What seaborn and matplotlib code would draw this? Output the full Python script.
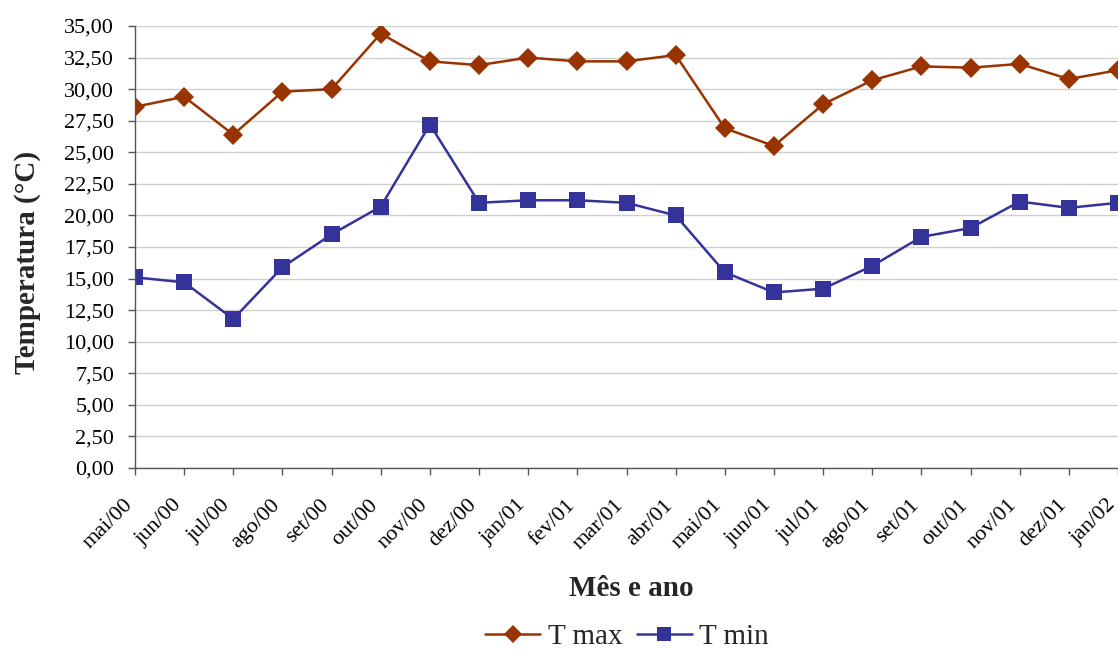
import numpy as np
import pandas as pd
import matplotlib
matplotlib.use("Agg")
import matplotlib.pyplot as plt
import matplotlib.ticker as mticker
import matplotlib.transforms as mtransforms
import seaborn as sns

meses = ["mai/00", "jun/00", "jul/00", "ago/00", "set/00", "out/00", "nov/00",
         "dez/00", "jan/01", "fev/01", "mar/01", "abr/01", "mai/01", "jun/01",
         "jul/01", "ago/01", "set/01", "out/01", "nov/01", "dez/01", "jan/02"]

t_max = [28.6, 29.4, 26.4, 29.8, 30.0, 34.4, 32.2, 31.9, 32.5, 32.2, 32.2,
         32.7, 26.9, 25.5, 28.8, 30.7, 31.8, 31.7, 32.0, 30.8, 31.5]

t_min = [15.1, 14.7, 11.8, 15.9, 18.5, 20.7, 27.2, 21.0, 21.2, 21.2, 21.0,
         20.0, 15.5, 13.9, 14.2, 16.0, 18.3, 19.0, 21.1, 20.6, 21.0]

sns.set_theme(style="white")
plt.rcParams['font.family'] = ['Liberation Serif', 'DejaVu Serif']

df = pd.DataFrame({
    "idx": list(range(len(meses))) * 2,
    "Temperatura": t_max + t_min,
    "Serie": ["T max"] * len(meses) + ["T min"] * len(meses),
})

W, H = 1118, 650
fig = plt.figure(figsize=(W / 100, H / 100), dpi=100)
ax = fig.add_axes([135 / W, 1 - 468 / H, (W - 135) / W, (468 - 26) / H])

cores = {"T max": "#993300", "T min": "#333399"}
marcadores = {"T max": "D", "T min": "s"}
tamanhos = {"T max": 10, "T min": 11}

for serie in ["T max", "T min"]:
    sns.lineplot(data=df[df["Serie"] == serie], x="idx", y="Temperatura",
                 color=cores[serie], marker=marcadores[serie],
                 markersize=tamanhos[serie], linewidth=1.8, markeredgewidth=0,
                 ax=ax, legend=False)

ax.set_xlim(0, (W - 135) / 49.6)
ax.set_ylim(0, 35)
ax.set_yticks(np.arange(0, 35.01, 2.5))
ax.yaxis.set_major_formatter(mticker.FuncFormatter(lambda v, p: f"{v:.2f}".replace(".", ",")))
ax.set_xticks(range(len(meses)))
ax.set_xticklabels(meses, rotation=45, ha="right", rotation_mode="anchor")

ax.grid(axis="y", color="#cfcfcf", linewidth=1.0)
ax.set_axisbelow(True)
for s in ["top", "right"]:
    ax.spines[s].set_visible(False)
for s in ["left", "bottom"]:
    ax.spines[s].set_color("#555555")
    ax.spines[s].set_linewidth(1.0)

ax.tick_params(axis="both", labelsize=16, colors="black", length=5, width=1,
               color="#555555", direction="out")
ax.tick_params(axis="x", pad=15)
ax.tick_params(axis="y", pad=10)
ax.tick_params(left=True, bottom=True)

# desloca os rótulos do eixo x um pouco para a esquerda (depois do tick_params)
desloc = mtransforms.ScaledTranslation(-12 / 100, 0, fig.dpi_scale_trans)
for tick in ax.xaxis.get_major_ticks():
    tick.label1.set_transform(tick.label1.get_transform() + desloc)

ax.set_xlabel("")
ax.set_ylabel("")
fig.text(631 / W, 1 - 589 / H, "Mês e ano", ha="center", va="center",
         fontsize=21, fontweight="bold")
fig.text(28 / W, 1 - 262 / H, "Temperatura (°C)", ha="center", va="center",
         rotation=90, fontsize=21, fontweight="bold")

handles = [
    plt.Line2D([], [], color=cores["T max"], marker="D", markersize=9, linewidth=1.8, markeredgewidth=0),
    plt.Line2D([], [], color=cores["T min"], marker="s", markersize=10, linewidth=1.8, markeredgewidth=0),
]
fig.legend(handles, ["T max", "T min"], loc="center", bbox_to_anchor=(627 / W, 1 - 637 / H),
           ncol=2, frameon=False, fontsize=21, handlelength=1.9, columnspacing=0.5,
           handletextpad=0.25)

fig.savefig("out.png", dpi=100)
